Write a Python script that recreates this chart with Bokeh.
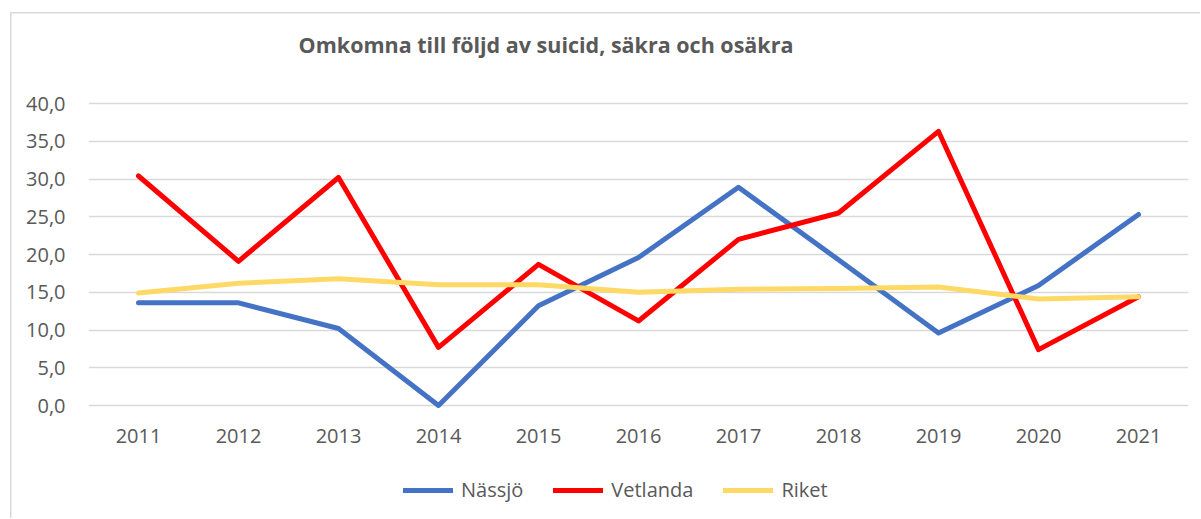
from bokeh.plotting import figure
from bokeh.models import (FactorRange, Range1d, FixedTicker, CustomJSTickFormatter,
                          Legend, LegendItem, Label, ColumnDataSource)
from bokeh.embed import file_html
from bokeh.resources import INLINE

title = "Omkomna till följd av suicid, säkra och osäkra"
years = ["2011", "2012", "2013", "2014", "2015", "2016", "2017", "2018", "2019", "2020", "2021"]
nassjo = [13.6, 13.6, 10.2, 0.0, 13.2, 19.6, 28.9, 19.3, 9.6, 15.9, 25.3]
vetlanda = [30.4, 19.1, 30.2, 7.7, 18.7, 11.2, 22.0, 25.5, 36.3, 7.4, 14.4]
riket = [14.9, 16.2, 16.8, 16.0, 16.0, 15.0, 15.4, 15.5, 15.7, 14.1, 14.4]
series_names = ["Nässjö", "Vetlanda", "Riket"]
y_ticks = [0, 5, 10, 15, 20, 25, 30, 35, 40]

colors = ["#4472C4", "#FF0000", "#FFD966"]
FONT = "Open Sans"
TXT = "#595959"
GRID = "#D9D9D9"

W, H = 1200, 518
# plot area: y=40 at 103 px from top, y=0 at 405 px; frame spans the full height
PX_TOP, PX_ZERO = 103, 405
ppu = (PX_ZERO - PX_TOP) / 40.0
y_start = -(H - PX_ZERO) / ppu
y_end = 40 + PX_TOP / ppu

p = figure(width=W, height=H, x_range=FactorRange(*years), y_range=Range1d(y_start, y_end),
           output_backend="svg", toolbar_location=None,
           min_border_left=88, min_border_right=W - 1188,
           min_border_top=0, min_border_bottom=0,
           styles={"box-shadow": "inset 10px 12px 0 0 white, inset 11.5px 13.5px 0 0 #D9D9D9"})
p.title.visible = False
p.outline_line_color = None
p.background_fill_alpha = 0
p.border_fill_alpha = 0

p.xgrid.grid_line_color = None
p.ygrid.grid_line_color = GRID
p.ygrid.grid_line_width = 1.6

p.yaxis.ticker = FixedTicker(ticks=y_ticks)
p.yaxis.formatter = CustomJSTickFormatter(code="return tick.toFixed(1).replace('.', ',');")
for ax in (p.xaxis, p.yaxis):
    ax.axis_line_color = None
    ax.major_tick_line_color = None
    ax.minor_tick_line_color = None
    ax.major_tick_in = 0
    ax.major_tick_out = 0
    ax.major_label_text_font = FONT
    ax.major_label_text_font_size = "20px"
    ax.major_label_text_color = TXT
p.yaxis.major_label_standoff = 23
p.xaxis.fixed_location = 0
p.xaxis.major_label_standoff = 23

src = ColumnDataSource(dict(x=years, n=nassjo, v=vetlanda, r=riket))
renderers = []
for key, c in zip(["n", "v", "r"], colors):
    r = p.line("x", key, source=src, line_color=c, line_width=5,
               line_cap="round", line_join="round")
    renderers.append(r)

legend = Legend(items=[LegendItem(label=n, renderers=[r]) for n, r in zip(series_names, renderers)],
                orientation="horizontal", location=(315, H - 503),
                glyph_width=50, glyph_height=20, label_height=20, label_standoff=8,
                spacing=30, padding=0, margin=0,
                border_line_color=None, background_fill_alpha=0,
                label_text_font=FONT, label_text_font_size="20px", label_text_color=TXT)
p.add_layout(legend, "center")

p.add_layout(Label(x=545.5 - 88, y=H - 44, x_units="screen", y_units="screen", text=title,
                   text_align="center", text_baseline="middle",
                   text_font=FONT, text_font_style="bold", text_font_size="21.5px",
                   text_color=TXT))

open("out.html", "w").write(file_html(p, INLINE))
